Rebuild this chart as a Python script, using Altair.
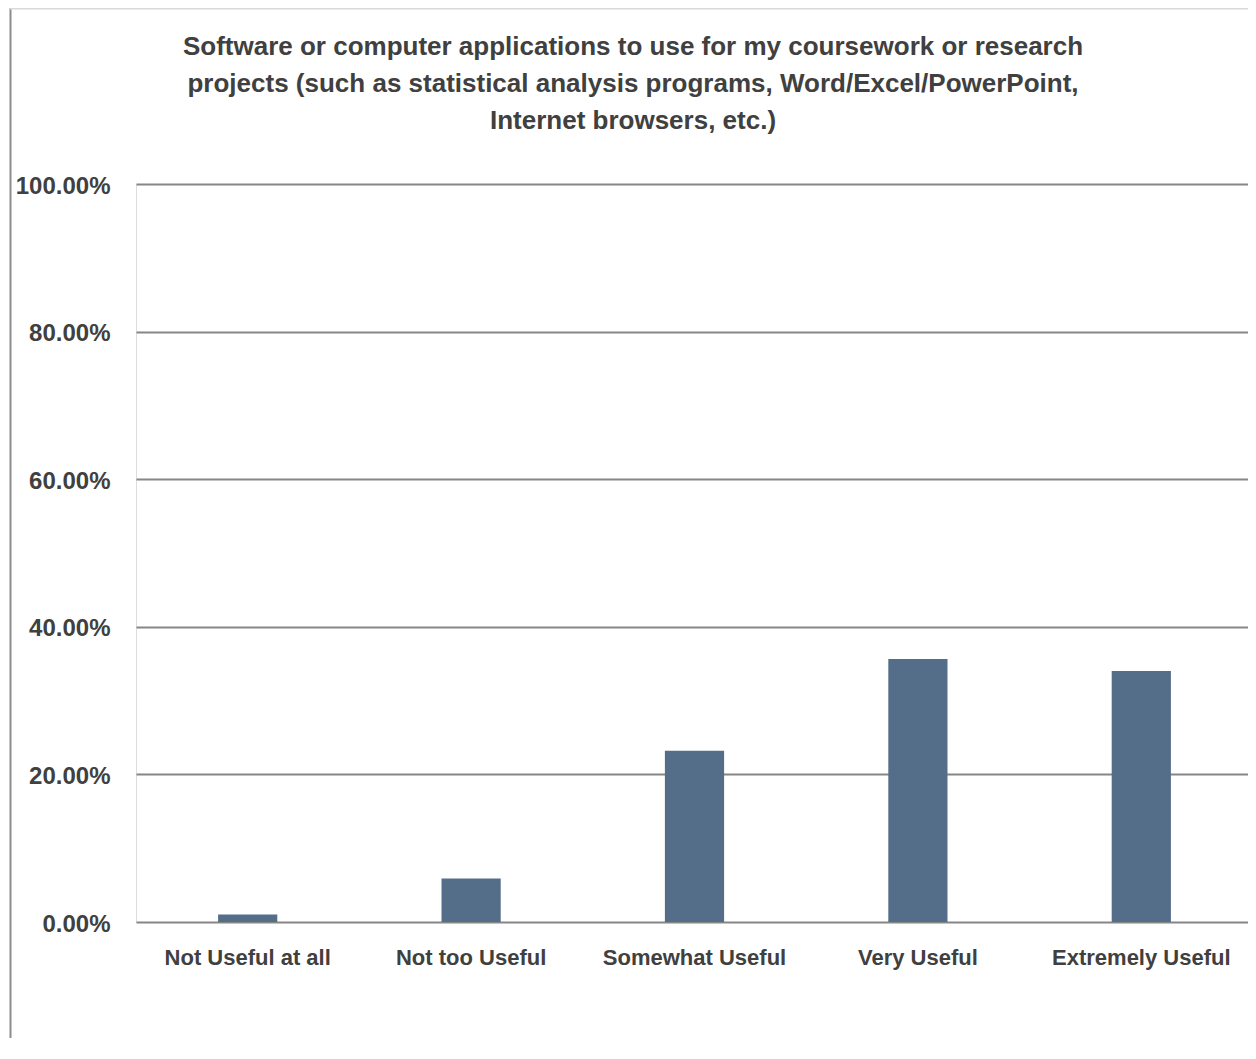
import altair as alt
import pandas as pd

categories = ["Not Useful at all", "Not too Useful", "Somewhat Useful", "Very Useful", "Extremely Useful"]
values = [0.0100, 0.0590, 0.2320, 0.3565, 0.3400]
y_ticks = [0, 0.2, 0.4, 0.6, 0.8, 1.0]
title_lines = [
    "Software or computer applications to use for my coursework or research",
    "projects (such as statistical analysis programs, Word/Excel/PowerPoint,",
    "Internet browsers, etc.)",
]

FONT = "Liberation Sans, Arial, sans-serif"
TEXT = "#404040"
W, H = 1112, 738

df = pd.DataFrame({"cat": categories, "val": values})

bars = alt.Chart(df).mark_bar(color="#546e8a").encode(
    x=alt.X("cat:N", sort=categories, title=None,
            scale=alt.Scale(paddingInner=0.735, paddingOuter=0.3675, range=[0, 1117]),
            axis=alt.Axis(labelAngle=0, domain=False, ticks=False, labelPadding=35,
                          labelFont=FONT, labelFontSize=22, labelFontWeight="bold",
                          labelColor=TEXT, labelBaseline="middle", labelLimit=0)),
    y=alt.Y("val:Q", title=None,
            scale=alt.Scale(domain=[0, 1], nice=False),
            axis=alt.Axis(values=y_ticks, format=".2%", domain=False, ticks=False,
                          grid=True, gridColor="#868686", gridWidth=2,
                          labelPadding=26, labelOffset=2, labelFont=FONT, labelFontSize=24,
                          labelFontWeight="bold", labelColor=TEXT, labelLimit=0)),
)

title = alt.Chart(pd.DataFrame({"t": ["\n".join(title_lines)]})).mark_text(
    font=FONT, fontSize=26, fontWeight="bold", color=TEXT, align="center",
    baseline="middle", lineBreak="\n", lineHeight=37,
).encode(text="t:N", x=alt.value(497), y=alt.value(-137))

left_frame = alt.Chart(pd.DataFrame({"a": [0]})).mark_rule(color="#8c8c8c", strokeWidth=2).encode(
    x=alt.value(-125.5), y=alt.value(-176), y2=alt.value(900)
)
top_frame = alt.Chart(pd.DataFrame({"a": [0]})).mark_rule(color="#d9d9d9", strokeWidth=1.5).encode(
    x=alt.value(-126), x2=alt.value(1112), y=alt.value(-175.3)
)

chart = alt.layer(left_frame, top_frame, bars, title).properties(
    width=W, height=H,
    autosize=alt.AutoSizeParams(type="none"),
    padding={"left": 128, "top": 176, "right": 0, "bottom": 116},
).configure_view(stroke=None).configure(background="white")

chart.save("out.html", embed_options={"renderer": "svg", "actions": False})
